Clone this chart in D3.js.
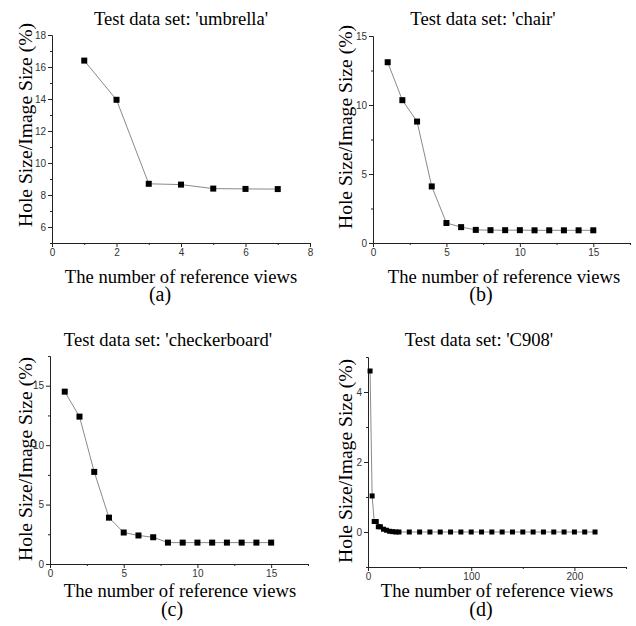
<!DOCTYPE html>
<html>
<head>
<meta charset="utf-8">
<script src="https://cdnjs.cloudflare.com/ajax/libs/d3/7.8.5/d3.min.js"></script>
<style>
  body { margin: 0; background: #fff; }
  .tick text { font-family: "Liberation Sans", Arial, sans-serif; font-size: 10px; fill: #333; }
  .tick line, .domain { stroke: #222; }
</style>
</head>
<body>
<svg width="636" height="626"></svg>
<script>
// data
const umbrellaX = [1, 2, 3, 4, 5, 6, 7];
const umbrellaY = [16.4, 13.95, 8.7, 8.65, 8.4, 8.38, 8.37];

const chairX = [1, 2, 3, 4, 5, 6, 7, 8, 9, 10, 11, 12, 13, 14, 15];
const chairY = [13.1, 10.35, 8.8, 4.1, 1.45, 1.15, 0.95, 0.93, 0.93, 0.93, 0.92, 0.92, 0.92, 0.92, 0.92];

const checkerX = [1, 2, 3, 4, 5, 6, 7, 8, 9, 10, 11, 12, 13, 14, 15];
const checkerY = [14.5, 12.4, 7.75, 3.9, 2.65, 2.4, 2.25, 1.8, 1.8, 1.8, 1.8, 1.8, 1.8, 1.8, 1.8];

const c908X = [2, 4, 6, 8, 10, 12, 15, 18, 21, 24, 27, 30, 40, 50, 60, 70, 80, 90, 100, 110,
               120, 130, 140, 150, 160, 170, 180, 190, 200, 210, 220];
const c908Y = [4.6, 1.03, 0.3, 0.3, 0.15, 0.15, 0.08, 0.05, 0.02, 0.01, 0, 0, 0, 0, 0, 0, 0, 0, 0, 0,
               0, 0, 0, 0, 0, 0, 0, 0, 0, 0, 0];

const titles = ["Test data set: 'umbrella'", "Test data set: 'chair'",
                "Test data set: 'checkerboard'", "Test data set: 'C908'"];
const letters = ["(a)", "(b)", "(c)", "(d)"];
const xLabel = "The number of reference views";
const yLabel = "Hole Size/Image Size (%)";

const serif = "Liberation Serif";

const panels = [
  { x: umbrellaX, y: umbrellaY, xd: [0, 8], yd: [5, 18],
    xt: [0, 2, 4, 6, 8], xm: [1, 3, 5, 7], yt: [6, 8, 10, 12, 14, 16, 18], ym: [5, 7, 9, 11, 13, 15, 17],
    L: 52, R: 310, T: 35, B: 243, tx: 181, ty: 25, ax: 181, ay: 283, lx: 160, ly: 301, yx: 32, yy: 125, ms: 6 },
  { x: chairX, y: chairY, xd: [0, 17.5], yd: [0, 15],
    xt: [0, 5, 10, 15], xm: [2.5, 7.5, 12.5, 17.5], yt: [0, 5, 10, 15], ym: [2.5, 7.5, 12.5],
    L: 373, R: 630, T: 36, B: 243, tx: 483, ty: 25, ax: 504, ay: 283, lx: 481, ly: 301, yx: 352, yy: 127, ms: 6 },
  { x: checkerX, y: checkerY, xd: [0, 17.5], yd: [0, 17.5],
    xt: [0, 5, 10, 15], xm: [2.5, 7.5, 12.5, 17.5], yt: [0, 5, 10, 15], ym: [2.5, 7.5, 12.5, 17.5],
    L: 50, R: 308, T: 356, B: 564, tx: 168, ty: 346, ax: 180, ay: 597, lx: 172, ly: 616, yx: 32, yy: 459, ms: 6 },
  { x: c908X, y: c908Y, xd: [0, 250], yd: [-1, 5],
    xt: [0, 100, 200], xm: [50, 150, 250], yt: [0, 2, 4], ym: [-1, 1, 3, 5],
    L: 368, R: 626, T: 357, B: 567, tx: 479, ty: 346, ax: 497, ay: 597, lx: 481, ly: 616, yx: 352, yy: 461, ms: 5 }
];

const svg = d3.select("svg");

panels.forEach((p, i) => {
  const x = d3.scaleLinear().domain(p.xd).range([p.L, p.R]);
  const y = d3.scaleLinear().domain(p.yd).range([p.B, p.T]);
  const g = svg.append("g");

  // minor ticks
  g.append("g").attr("transform", `translate(0,${p.B})`)
    .call(d3.axisBottom(x).tickValues(p.xm).tickSize(2).tickSizeOuter(0).tickFormat(""));
  g.append("g").attr("transform", `translate(${p.L},0)`)
    .call(d3.axisLeft(y).tickValues(p.ym).tickSize(2).tickSizeOuter(0).tickFormat(""));

  // major ticks
  g.append("g").attr("transform", `translate(0,${p.B})`)
    .call(d3.axisBottom(x).tickValues(p.xt).tickSize(4).tickSizeOuter(0).tickPadding(2).tickFormat(d3.format("d")));
  g.append("g").attr("transform", `translate(${p.L},0)`)
    .call(d3.axisLeft(y).tickValues(p.yt).tickSize(4).tickSizeOuter(0).tickPadding(2).tickFormat(d3.format("d")));

  const pts = p.x.map((v, k) => [v, p.y[k]]);

  g.append("path")
    .datum(pts)
    .attr("fill", "none")
    .attr("stroke", "#8a8a8a")
    .attr("stroke-width", 1)
    .attr("d", d3.line().x(d => x(d[0])).y(d => y(d[1])));

  g.selectAll("rect.pt")
    .data(pts)
    .enter()
    .append("rect")
    .attr("class", "pt")
    .attr("x", d => x(d[0]) - p.ms / 2)
    .attr("y", d => y(d[1]) - p.ms / 2)
    .attr("width", p.ms)
    .attr("height", p.ms)
    .attr("fill", "#000");

  const label = (tx, ty, txt, size, rot) => g.append("text")
    .attr("transform", `translate(${tx},${ty})` + (rot ? " rotate(-90)" : ""))
    .attr("text-anchor", "middle")
    .attr("font-family", serif)
    .attr("font-size", size)
    .attr("fill", "#000")
    .text(txt);

  label(p.tx, p.ty, titles[i], 18.6);
  label(p.ax, p.ay, xLabel, 18.6);
  label(p.lx, p.ly, letters[i], 20);
  label(p.yx, p.yy, yLabel, 19.6, true);
});
</script>
</body>
</html>
